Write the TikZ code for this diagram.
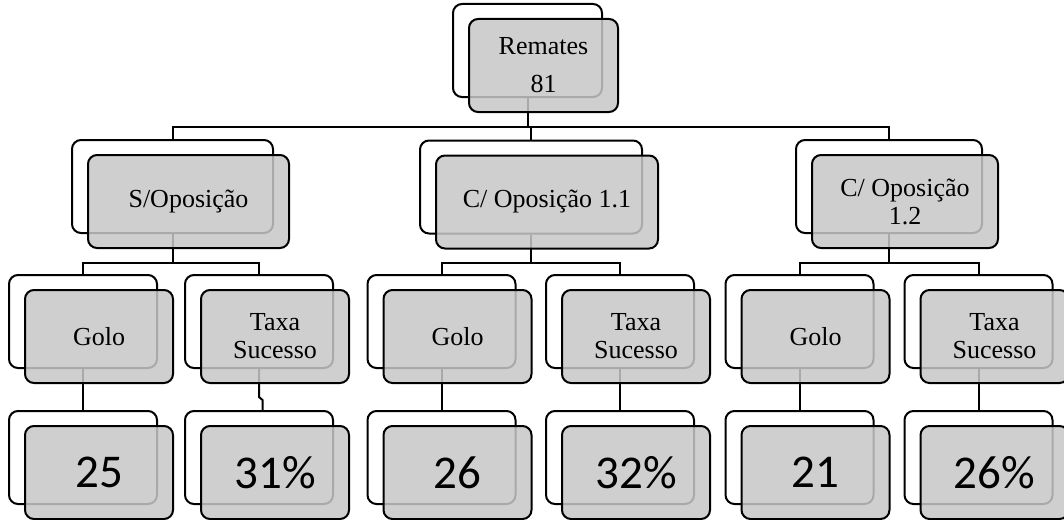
\documentclass[tikz,border=0pt]{standalone}
\usepackage{fontspec}
\setmainfont{Liberation Serif}
\newfontfamily\numfont{Carlito}
\pgfdeclarelayer{bg}
\pgfsetlayers{bg,main}
\definecolor{boxgray}{RGB}{199,199,199}

\tikzset{
  backbox/.style={draw=black, line width=2pt, fill=white, rounded corners=9pt,
    minimum height=93pt, inner sep=0pt},
  frontbox/.style={draw=black, line width=2pt, fill=boxgray, fill opacity=0.85,
    text opacity=1, rounded corners=9pt, minimum height=93pt, inner sep=0pt,
    align=center, font=\fontsize{26}{28}\selectfont},
  numbox/.style={frontbox, font=\numfont\fontsize{47}{50}\selectfont},
  link/.style={line width=2pt, draw=black}
}

% one item: a white frame behind a shaded box
% #1 name, #2 x, #3 y, #4 width, #5 style, #6 text
\newcommand\duo[6]{%
  \node[backbox, minimum width=#4] (#1b) at (#2,#3) {};
  \node[#5, minimum width=#4] (#1) at ({#2+16},{#3+15}) {#6};
}

\begin{document}
\begin{tikzpicture}[x=1pt,y=-1pt]
\useasboundingbox (0,0) rectangle (1064,519);

% top
\duo{root}{527.5}{50.5}{149pt}{frontbox}{Remates\\[10pt]81}

% second level
\duo{so}{172.5}{186.5}{201pt}{frontbox}{S/Oposição}
\duo{ca}{531}{187}{222pt}{frontbox}{C/ Oposição 1.1}
\duo{cb}{889}{186.5}{186pt}{frontbox}{C/ Oposição\\1.2}

% third level
\duo{ga}{83}{321.5}{148pt}{frontbox}{Golo}
\duo{ta}{259}{321.5}{148pt}{frontbox}{Taxa\\Sucesso}
\duo{gb}{441.5}{321.5}{148pt}{frontbox}{Golo}
\duo{tb}{620}{321.5}{148pt}{frontbox}{Taxa\\Sucesso}
\duo{gc}{799.5}{321.5}{148pt}{frontbox}{Golo}
\duo{tc}{978.5}{321.5}{148pt}{frontbox}{Taxa\\Sucesso}

% values
\duo{va}{83}{457.5}{148pt}{numbox}{25}
\duo{pa}{259}{457.5}{148pt}{numbox}{31\%}
\duo{vb}{441.5}{457.5}{148pt}{numbox}{26}
\duo{pb}{620}{457.5}{148pt}{numbox}{32\%}
\duo{vc}{799.5}{457.5}{148pt}{numbox}{21}
\duo{pc}{978.5}{457.5}{148pt}{numbox}{26\%}

\begin{pgfonlayer}{bg}
  % root to second level
  \draw[link] (rootb.south) -- (rootb.south |- 0,126.5) -| (sob.north);
  \draw[link] (rootb.south) -- (rootb.south |- 0,126.5) -| (cab.north);
  \draw[link] (rootb.south) -- (rootb.south |- 0,126.5) -| (cbb.north);
  % second to third level
  \draw[link] (sob.south) -- (sob.south |- 0,263) -| (gab.north);
  \draw[link] (sob.south) -- (sob.south |- 0,263) -| (tab.north);
  \draw[link] (cab.south) -- (cab.south |- 0,263) -| (gbb.north);
  \draw[link] (cab.south) -- (cab.south |- 0,263) -| (tbb.north);
  \draw[link] (cbb.south) -- (cbb.south |- 0,263) -| (gcb.north);
  \draw[link] (cbb.south) -- (cbb.south |- 0,263) -| (tcb.north);
  % third level to values
  \draw[link] (gab.south) -- (vab.north);
  \draw[link] (tab.south) -- ++(0,28) -- ++(3.5,3) -- ++(0,13);
  \draw[link] (gbb.south) -- (vbb.north);
  \draw[link] (tbb.south) -- (pbb.north);
  \draw[link] (gcb.south) -- (vcb.north);
  \draw[link] (tcb.south) -- (pcb.north);
\end{pgfonlayer}
\end{tikzpicture}
\end{document}
